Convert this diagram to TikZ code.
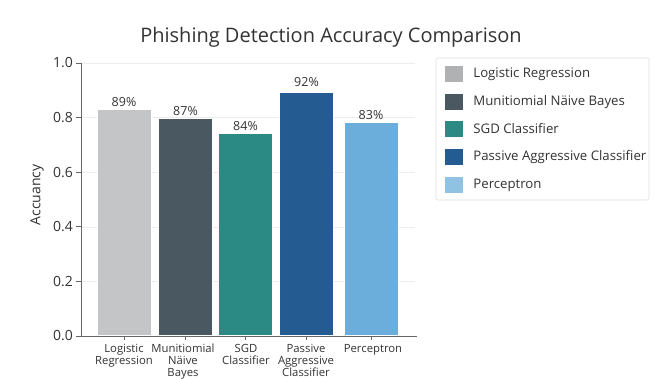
\documentclass[tikz,border=0pt]{standalone}
\usepackage{fontspec}
\setmainfont{Open Sans}
\usetikzlibrary{positioning}

\definecolor{inkgray}{HTML}{333333}
\definecolor{lrcol}{HTML}{C3C5C7}
\definecolor{nbcol}{HTML}{4A5861}
\definecolor{sgdcol}{HTML}{2B8A84}
\definecolor{pacol}{HTML}{245C92}
\definecolor{pcpcol}{HTML}{6BAEDB}

\begin{document}
\begin{tikzpicture}[x=1pt,y=-1pt,
    every node/.style={text=inkgray},
    bar/.style={draw=white, line width=0.6pt, minimum width=54pt, inner sep=0pt, anchor=south},
    val/.style={font=\fontsize{12.5}{14}\selectfont, inner sep=1pt},
    tick/.style={font=\fontsize{14}{16}\selectfont, anchor=east, inner sep=0pt},
    cat/.style={font=\fontsize{11.3}{12}\selectfont, anchor=north, align=center, inner sep=0pt},
    swatch/.style={minimum width=18pt, minimum height=16pt, inner sep=0pt},
    entry/.style={font=\fontsize{13.2}{15}\selectfont, anchor=west, inner sep=0pt},
    grid/.style={black!7, line width=0.5pt},
    axis/.style={black!60, line width=0.9pt}]
  \useasboundingbox (0,0) rectangle (663,378);

  % title
  \node[font=\fontsize{20}{22}\selectfont] (title) at (331,37) {Phishing Detection Accuracy Comparison};

  % grid and y axis
  \draw[grid] (81,63) -- (415,63);
  \draw[grid] (81,117.6) -- (415,117.6);
  \draw[grid] (81,172.2) -- (415,172.2);
  \draw[grid] (81,226.8) -- (415,226.8);
  \draw[grid] (81,281.4) -- (415,281.4);
  \draw[axis] (81,63) -- (81,336) -- (417,336);
  \draw[axis] (76,63) -- (81,63) (76,117.6) -- (81,117.6) (76,172.2) -- (81,172.2)
              (76,226.8) -- (81,226.8) (76,281.4) -- (81,281.4) (76,336) -- (81,336);
  \node[tick] (t10) at (73,63) {1.0};
  \node[tick] (t08) at (73,117.6) {0.8};
  \node[tick] (t06) at (73,172.2) {0.6};
  \node[tick] (t04) at (73,226.8) {0.4};
  \node[tick] (t02) at (73,281.4) {0.2};
  \node[tick] (t00) at (73,336) {0.0};
  \node[rotate=90, font=\fontsize{14}{16}\selectfont] (ylab) at (37,195) {Accuancy};

  % bars
  \node[bar, fill=lrcol, minimum height=226pt] (lr) at (124,336) {};
  \node[bar, fill=nbcol, minimum height=217pt] (nb) at (185.5,336) {};
  \node[bar, fill=sgdcol, minimum height=202pt] (sgd) at (245.5,336) {};
  \node[bar, fill=pacol, minimum height=243pt] (pa) at (306.5,336) {};
  \node[bar, fill=pcpcol, minimum height=213pt] (pcp) at (371,336) {};
  \draw[axis] (81,336) -- (417,336);

  % values over the bars
  \node[val, above=2pt of lr] {89\%};
  \node[val, above=2pt of nb] {87\%};
  \node[val, above=2pt of sgd] {84\%};
  \node[val, above=5pt of pa] {92\%};
  \node[val, above=2pt of pcp] {83\%};

  % categories
  \draw[axis, line width=0.6pt] (124,336) -- (124,340) (185.5,336) -- (185.5,340) (245.5,336) -- (245.5,340)
              (306.5,336) -- (306.5,340) (371,336) -- (371,340);
  \node[cat] (clr) at (124,344) {Logistic\\Regression};
  \node[cat] (cnb) at (183,344) {Munitiomial\\Näive\\Bayes};
  \node[cat] (csgd) at (246,344) {SGD\\Classifier};
  \node[cat] (cpa) at (306,344) {Passive\\Aggressive\\Classifier};
  \node[cat] (cpcp) at (373,344) {Perceptron};

  % legend
  \draw[black!13, line width=0.6pt, fill=white, rounded corners=2pt] (436,58) rectangle (649,200);
  \node[swatch, fill=lrcol!90!black] (k1) at (454,74) {};
  \node[swatch, fill=nbcol] (k2) at (454,102) {};
  \node[swatch, fill=sgdcol] (k3) at (454,129) {};
  \node[swatch, fill=pacol] (k4) at (454,157) {};
  \node[swatch, fill=pcpcol!75!white] (k5) at (454,185) {};
  \node[entry, right=10pt of k1] {Logistic Regression};
  \node[entry, right=10pt of k2] {Munitiomial Näive Bayes};
  \node[entry, right=10pt of k3] {SGD Classifier};
  \node[entry, right=10pt of k4] {Passive Aggressive Classifier};
  \node[entry, right=10pt of k5] {Perceptron};
\end{tikzpicture}
\end{document}
